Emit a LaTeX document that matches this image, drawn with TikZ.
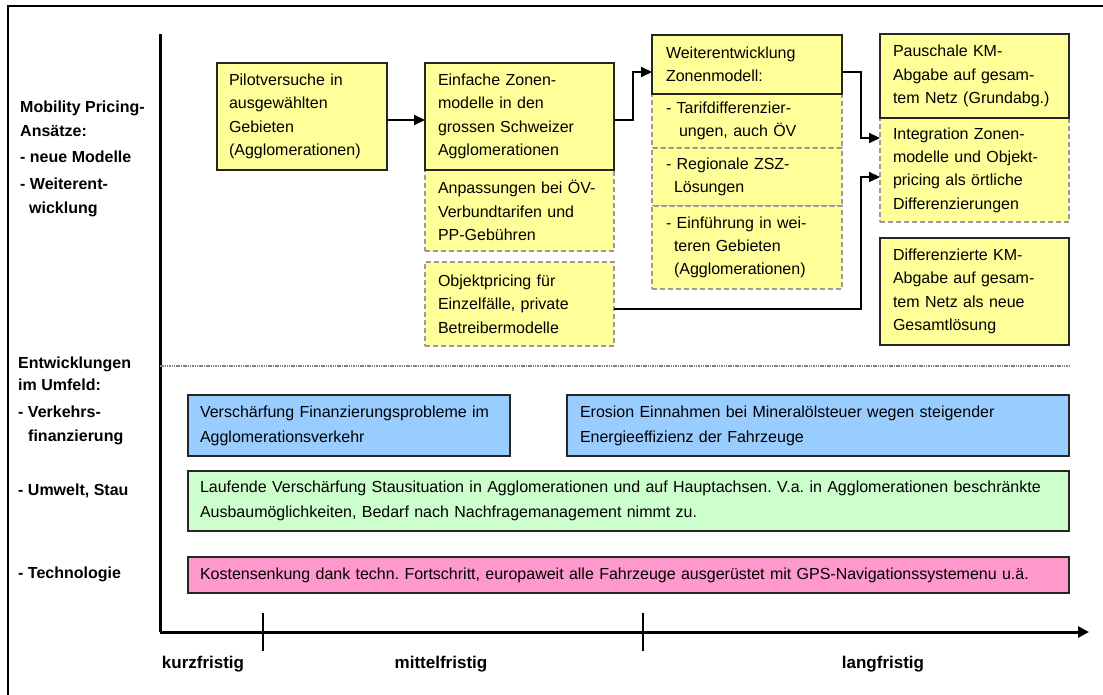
\documentclass[tikz,border=0pt]{standalone}
\usepackage{fontspec}
\setmainfont{Liberation Sans}
\usetikzlibrary{arrows.meta}
\frenchspacing

\definecolor{boxyellow}{HTML}{FFFF99}
\definecolor{boxblue}{HTML}{99CCFF}
\definecolor{boxgreen}{HTML}{CCFFCC}
\definecolor{boxpink}{HTML}{FF99CC}
\definecolor{dashgray}{HTML}{9A9A9A}

\tikzset{
  basebox/.style={anchor=north west, align=left, inner ysep=0pt, outer sep=0pt},
  solidbox/.style={basebox, draw=black!85, line width=1.2pt, fill=boxyellow,
    font=\fontsize{16}{23.3}\selectfont},
  dashbox/.style={basebox, draw=dashgray, line width=1.8pt, dash pattern=on 5pt off 3pt,
    fill=boxyellow, font=\fontsize{16}{23.3}\selectfont},
  envbox/.style={basebox, draw=black!85, line width=1.2pt,
    font=\fontsize{16}{25}\selectfont},
  sidelabel/.style={anchor=base west, inner sep=0pt, font=\fontsize{16}{20}\selectfont\bfseries},
  axislabel/.style={anchor=base, inner sep=0pt, font=\fontsize{17}{20}\selectfont\bfseries},
  flow/.style={line width=2pt, -{Triangle[length=11pt,width=10pt]}},
  axisline/.style={line width=3pt},
  tickline/.style={line width=1.5pt},
  sepline/.style={draw=black!50, line width=2.2pt, dash pattern=on 1.5pt off 0.8pt},
  frameline/.style={line width=1.2pt},
}

\begin{document}
\begin{tikzpicture}[x=1pt, y=-1pt]
\useasboundingbox (0,0) rectangle (1103,695);

% outer frame
\draw[frameline] (8,695) -- (8,6) -- (1103,6);

% time axes
\coordinate (ytop) at (160,34);
\coordinate (orig) at (160,632);
\coordinate (xend) at (1089,632);
\draw[axisline] (ytop) -- (orig);
\draw[axisline, -{Triangle[length=11pt,width=11pt]}] (orig) -- (xend);
\coordinate (t1a) at (263,613); \coordinate (t1b) at (263,651);
\coordinate (t2a) at (643,613); \coordinate (t2b) at (643,651);
\draw[tickline] (t1a) -- (t1b);
\draw[tickline] (t2a) -- (t2b);
\node[axislabel] (kurz) at (203,668) {kurzfristig};
\node[axislabel] (mittel) at (441,668) {mittelfristig};
\node[axislabel] (lang) at (883,668) {langfristig};

% row labels
\node[sidelabel] (l1) at (20,113) {Mobility Pricing-};
\node[sidelabel] (l2) at (20,137) {Ansätze:};
\node[sidelabel] (l3) at (20,163) {- neue Modelle};
\node[sidelabel] (l4) at (20,190) {- Weiterent-};
\node[sidelabel] (l5) at (29,214) {wicklung};
\node[sidelabel] (m1) at (18,368) {Entwicklungen};
\node[sidelabel] (m2) at (18,390) {im Umfeld:};
\node[sidelabel] (m3) at (18,417) {- Verkehrs-};
\node[sidelabel] (m4) at (28,441) {finanzierung};
\node[sidelabel] (m5) at (18,495) {- Umwelt, Stau};
\node[sidelabel] (m6) at (18,578) {- Technologie};

% separator between the two parts
\coordinate (sepa) at (160,366);
\coordinate (sepb) at (1070,366);
\draw[sepline] (sepa) -- (sepb);

% dashed (optional) steps first, solid steps on top
\node[dashbox, minimum width=189, minimum height=81, inner xsep=13, text width=163] (anpass) at (425,170)
  {Anpassungen bei ÖV-\\Verbundtarifen und\\PP-Gebühren};
\node[dashbox, minimum width=189, minimum height=84, inner xsep=13, text width=163] (objekt) at (425,262)
  {Objektpricing für\\Einzelfälle, private\\Betreibermodelle};
\node[dashbox, minimum width=190, minimum height=54, inner xsep=14, text width=162] (tarif) at (652,94)
  {- Tarifdifferenzier-\\\hspace*{13pt}ungen, auch ÖV};
\node[dashbox, minimum width=190, minimum height=58, inner xsep=14, text width=162] (regio) at (652,148)
  {- Regionale ZSZ-\\\hspace*{8pt}Lösungen};
\node[dashbox, minimum width=190, minimum height=83, inner xsep=14, text width=162] (einf) at (652,206)
  {- Einführung in wei-\\\hspace*{8pt}teren Gebieten\\\hspace*{8pt}(Agglomerationen)};
\node[dashbox, minimum width=189, minimum height=104, inner xsep=13, text width=163] (integ) at (880,118)
  {Integration Zonen-\\modelle und Objekt-\\pricing als örtliche\\Differenzierungen};

\node[solidbox, minimum width=170, minimum height=107, inner xsep=12, text width=146] (pilot) at (217,63)
  {Pilotversuche in\\ausgewählten\\Gebieten\\(Agglomerationen)};
\node[solidbox, minimum width=189, minimum height=107, inner xsep=13, text width=163] (zonen) at (425,63)
  {Einfache Zonen-\\modelle in den\\grossen Schweizer\\Agglomerationen};
\node[solidbox, minimum width=190, minimum height=59, inner xsep=14, text width=162] (weiter) at (652,35)
  {Weiterentwicklung\\Zonenmodell:};
\node[solidbox, minimum width=189, minimum height=84, inner xsep=13, text width=163] (pausch) at (880,34)
  {Pauschale KM-\\Abgabe auf gesam-\\tem Netz (Grundabg.)};
\node[solidbox, minimum width=189, minimum height=107, inner xsep=13, text width=163] (diff) at (880,238)
  {Differenzierte KM-\\Abgabe auf gesam-\\tem Netz als neue\\Gesamtlösung};

% flow between the steps
\draw[flow] ([yshift=-3.5pt]pilot.east) -- ([yshift=-3.5pt]zonen.west);
\draw[flow] ([yshift=-3.5pt]zonen.east) -- ++(19,0) |- ([yshift=-7.5pt]weiter.west);
\draw[flow] ([yshift=-7.5pt]weiter.east) -- ++(19,0) |- ([yshift=32pt]integ.west);
\draw[flow] ([yshift=-5pt]objekt.east) -- ++(247,0) |- ([yshift=-7pt]integ.west);

% developments in the environment
\node[envbox, fill=boxblue, minimum width=322, minimum height=61, inner xsep=12, text width=298] (fin1) at (188,395)
  {Verschärfung Finanzierungsprobleme im\\Agglomerationsverkehr};
\node[envbox, fill=boxblue, minimum width=502, minimum height=61, inner xsep=13, text width=476] (fin2) at (567,395)
  {Erosion Einnahmen bei Mineralölsteuer wegen steigender\\Energieeffizienz der Fahrzeuge};
\node[envbox, fill=boxgreen, minimum width=881, minimum height=60, inner xsep=12, text width=857] (stau) at (188,471)
  {Laufende Verschärfung Stausituation in Agglomerationen und auf Hauptachsen. V.a. in Agglomerationen beschränkte\\Ausbaumöglichkeiten, Bedarf nach Nachfragemanagement nimmt zu.};
\node[envbox, fill=boxpink, minimum width=881, minimum height=36, inner xsep=12, text width=857] (tech) at (188,557)
  {Kostensenkung dank techn. Fortschritt, europaweit alle Fahrzeuge ausgerüstet mit GPS-Navigationssystemenu u.ä.};

\end{tikzpicture}
\end{document}
